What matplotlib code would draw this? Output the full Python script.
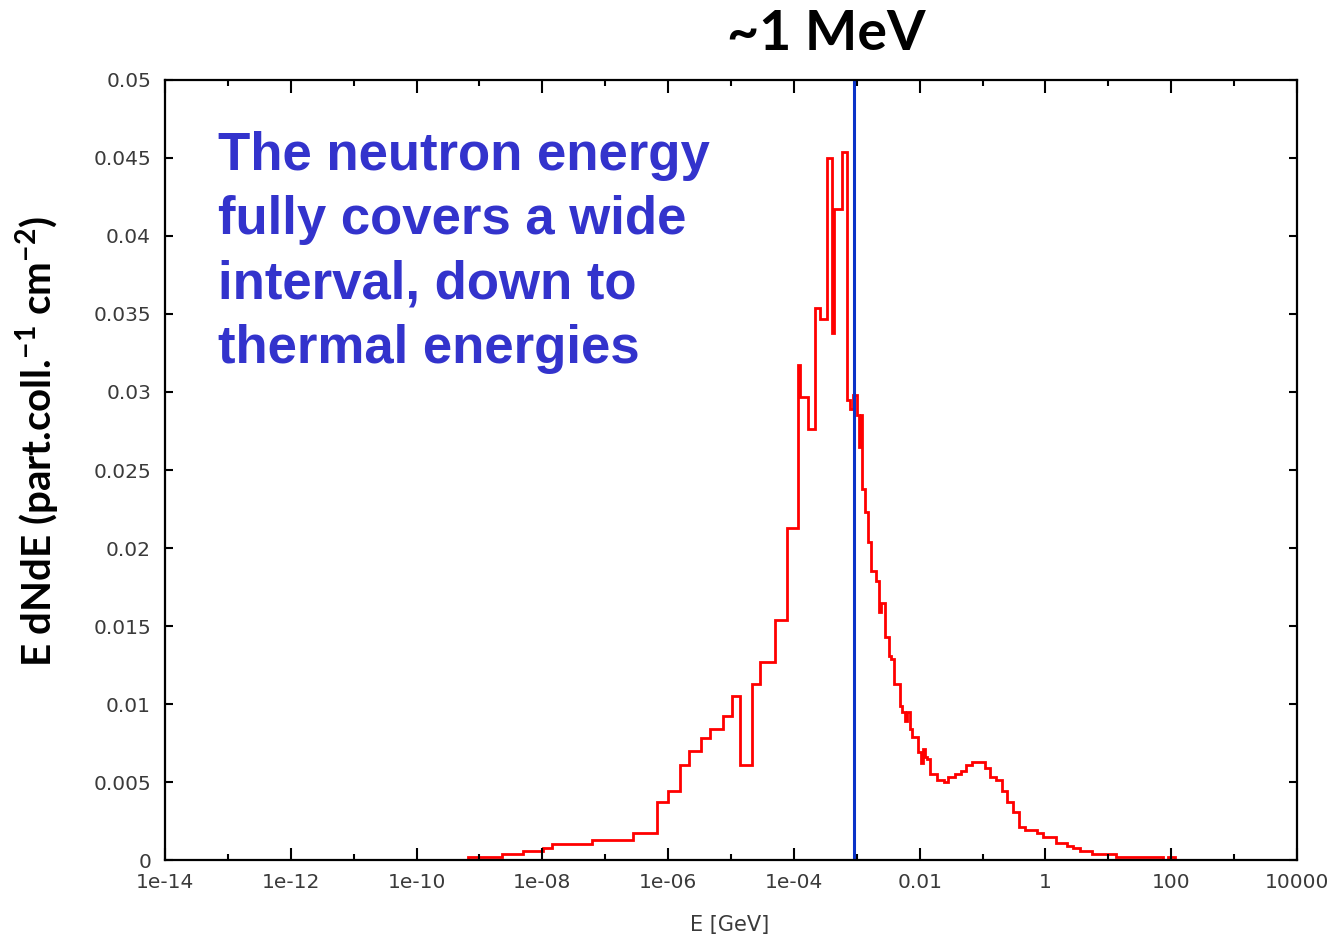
import numpy as np
import matplotlib.pyplot as plt
from matplotlib.ticker import FixedLocator, FixedFormatter

"""
Neutron energy spectrum: E dN/dE versus E, log energy axis.
"""

# bin edges as log10(E / GeV)
log_edges = [
    -9.18, -8.64, -8.31, -7.99, -7.85, -7.21, -6.56, -6.18, -6.00, -5.81,
    -5.67, -5.48, -5.33, -5.13, -4.98, -4.86, -4.67, -4.54, -4.30, -4.11,
    -3.935, -3.895, -3.776, -3.664, -3.585, -3.474, -3.394, -3.354, -3.235, -3.156,
    -3.108, -3.060, -2.997, -2.965, -2.933, -2.909, -2.869, -2.822, -2.774, -2.694,
    -2.647, -2.615, -2.551, -2.488, -2.456, -2.408, -2.313, -2.281, -2.233, -2.202,
    -2.154, -2.122, -2.027, -1.979, -1.947, -1.915, -1.884, -1.836, -1.725, -1.613,
    -1.550, -1.438, -1.343, -1.263, -1.168, -0.961, -0.882, -0.786, -0.691, -0.611,
    -0.516, -0.421, -0.325, -0.135, -0.039, 0.168, 0.343, 0.438, 0.549, 0.740,
    1.122, 1.869, 1.949, 2.060,
]

# E dNdE per bin (part. coll.^-1 cm^-2)
flux = [
    0.0002, 0.0004, 0.0006, 0.0008, 0.0010, 0.0013, 0.0017, 0.0037, 0.0044, 0.0061,
    0.0070, 0.0078, 0.0084, 0.0092, 0.0105, 0.0061, 0.0113, 0.0127, 0.0154, 0.0213,
    0.0317, 0.0297, 0.0276, 0.0354, 0.0347, 0.0450, 0.0338, 0.0417, 0.0454, 0.0295,
    0.0289, 0.0298, 0.0285, 0.0265, 0.0285, 0.0238, 0.0223, 0.0204, 0.0185, 0.0179,
    0.0159, 0.0165, 0.0143, 0.0131, 0.0129, 0.0113, 0.0099, 0.0095, 0.0089, 0.0095,
    0.0084, 0.0079, 0.0069, 0.0062, 0.0071, 0.0066, 0.0065, 0.0055, 0.0051, 0.0050,
    0.0053, 0.0055, 0.0057, 0.0061, 0.0063, 0.0059, 0.0053, 0.0051, 0.0044, 0.0037,
    0.0031, 0.0021, 0.0019, 0.0017, 0.0015, 0.0011, 0.0009, 0.0008, 0.0006, 0.0004,
    0.0002, 0.0, 0.0002,
]

x_major_exps = [-14, -12, -10, -8, -6, -4, -2, 0, 2, 4]
x_major_labels = ["1e-14", "1e-12", "1e-10", "1e-08", "1e-06", "1e-04",
                  "0.01", "1", "100", "10000"]
x_minor_exps = [-13, -11, -9, -7, -5, -3, -1, 1, 3]
y_ticks = [0, 0.005, 0.01, 0.015, 0.02, 0.025, 0.03, 0.035, 0.04, 0.045, 0.05]
y_tick_labels = ["0", "0.005", "0.01", "0.015", "0.02", "0.025", "0.03",
                 "0.035", "0.04", "0.045", "0.05"]

marker_energy = 0.9e-3  # ~1 MeV
note_lines = ["The neutron energy", "fully covers a wide",
              "interval, down to", "thermal energies"]


def plot_spectrum():
    """
    Draw the step histogram, the 1 MeV marker and the annotations.
    """
    plt.rcParams['mathtext.fontset'] = 'custom'
    plt.rcParams['mathtext.bf'] = 'Lato:bold'
    plt.rcParams['mathtext.rm'] = 'Lato:bold'

    fig = plt.figure(figsize=(13.39, 9.40), dpi=100)
    ax = fig.add_axes([0.1232, 0.0851, 0.8454, 0.8298])

    edges = 10.0 ** np.array(log_edges)
    ax.stairs(flux, edges, color='#ff0000', lw=2.0, baseline=0)
    ax.axvline(marker_energy, color='#0a32c8', lw=2.2)

    ax.set_xscale('log')
    ax.set_xlim(1e-14, 1e4)
    ax.set_ylim(0, 0.05)

    ax.xaxis.set_major_locator(FixedLocator([10.0 ** e for e in x_major_exps]))
    ax.xaxis.set_major_formatter(FixedFormatter(x_major_labels))
    ax.xaxis.set_minor_locator(FixedLocator([10.0 ** e for e in x_minor_exps]))
    ax.xaxis.set_minor_formatter(FixedFormatter([]))
    ax.yaxis.set_major_locator(FixedLocator(y_ticks))
    ax.yaxis.set_major_formatter(FixedFormatter(y_tick_labels))

    ax.tick_params(axis='both', which='both', direction='in', top=True,
                   right=True, width=1.5, colors='black', labelcolor='#3a3a3a',
                   labelsize=14.5)
    ax.tick_params(axis='x', which='major', length=9, pad=9)
    ax.tick_params(axis='x', which='minor', length=4.5)
    ax.tick_params(axis='y', which='major', length=6, pad=10)
    for spine in ax.spines.values():
        spine.set_linewidth(1.6)

    for i, line in enumerate(note_lines):
        ax.text(0.047, 0.885 - i * 0.0825, line, transform=ax.transAxes,
                color='#3333cc', fontsize=38, fontweight='bold',
                family=['Liberation Sans', 'DejaVu Sans'], va='baseline')

    fig.text(0.617, 0.947, '~1 MeV', ha='center', va='baseline',
             fontsize=40, fontweight='bold', family=['Lato', 'DejaVu Sans'])
    fig.text(0.028, 0.53, r'E dNdE (part.coll.$^{\mathbf{-1}}$ cm$^{\mathbf{-2}}$)',
             rotation=90, ha='center', va='center', fontsize=29,
             fontweight='bold', family=['Lato', 'DejaVu Sans'])
    fig.text(0.545, 0.016, 'E [GeV]', ha='center', va='center', fontsize=15,
             color='#3a3a3a')

    fig.savefig('out.png', dpi=100)


def main():
    plot_spectrum()


if __name__ == '__main__':
    main()
